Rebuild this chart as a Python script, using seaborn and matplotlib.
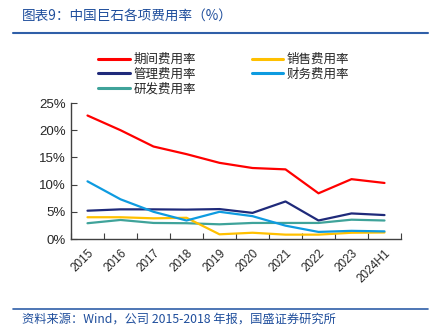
import matplotlib
matplotlib.use("Agg")
import matplotlib.pyplot as plt
import matplotlib.ticker as mticker
import seaborn as sns
import pandas as pd
import numpy as np

years = ["2015", "2016", "2017", "2018", "2019", "2020", "2021", "2022", "2023", "2024H1"]
period_rate = [22.7, 20.0, 17.0, 15.6, 14.0, 13.05, 12.8, 8.4, 11.0, 10.3]
mgmt_rate = [5.2, 5.45, 5.45, 5.4, 5.5, 4.8, 6.9, 3.4, 4.7, 4.4]
rd_rate = [2.9, 3.5, 2.95, 2.9, 2.7, 2.95, 2.95, 2.95, 3.55, 3.4]
sales_rate = [4.0, 4.0, 3.8, 3.9, 0.86, 1.15, 0.8, 0.8, 1.15, 1.2]
fin_rate = [10.6, 7.3, 5.0, 3.4, 5.0, 4.2, 2.45, 1.3, 1.5, 1.4]

series_names = ["期间费用率", "管理费用率", "研发费用率", "销售费用率", "财务费用率"]
series_vals = [period_rate, mgmt_rate, rd_rate, sales_rate, fin_rate]
colors = ["#FF0000", "#1F2A7A", "#3FA39A", "#FFC000", "#0E9BE0"]

rows = []
for name, vals in zip(series_names, series_vals):
    for i, v in enumerate(vals):
        rows.append({"x": i, "year": years[i], "value": v, "series": name})
df = pd.DataFrame(rows)

sns.set_style("ticks")
plt.rcParams["font.family"] = ["Liberation Sans", "Noto Sans CJK SC", "DejaVu Sans"]

fig = plt.figure(figsize=(4.33, 3.31), dpi=100)
ax = fig.add_axes([71/433, 1-239/331, 330/433, 136/331])

sns.lineplot(data=df, x="x", y="value", hue="series", hue_order=series_names,
             palette=colors, linewidth=1.6, ax=ax, legend=False)

ax.set_xlim(-0.5, 9.5)
ax.set_ylim(0, 25)
ax.set_xlabel("")
ax.set_ylabel("")
ax.yaxis.set_major_locator(mticker.MultipleLocator(5))
ax.yaxis.set_major_formatter(mticker.FuncFormatter(lambda v, p: f"{int(v)}%"))
ax.set_xticks(np.arange(-0.5, 10.0, 1.0))
ax.set_xticklabels([])
ax.set_xticks(np.arange(10), minor=True)
ax.set_xticklabels(years, minor=True, rotation=45, ha="right", rotation_mode="anchor")
ax.tick_params(axis="x", which="major", direction="in", length=4, width=0.8, color="#404040")
ax.tick_params(axis="x", which="minor", length=0, labelsize=8.5, pad=6)
ax.tick_params(axis="y", direction="in", length=4, width=0.8, color="#404040", labelsize=9.5)
for lab in ax.get_xticklabels(minor=True):
    lab.set_fontfamily(["Liberation Sans", "DejaVu Sans"])
for s in ["top", "right"]:
    ax.spines[s].set_visible(False)
for s in ["left", "bottom"]:
    ax.spines[s].set_color("#404040")
    ax.spines[s].set_linewidth(1.0)

from matplotlib.lines import Line2D
handles = [Line2D([0], [0], color=c, lw=2.2) for c in colors]
fig.legend(handles, series_names, loc="upper left", bbox_to_anchor=(92/433, 1-47/331),
           ncol=2, frameon=False, borderpad=0, handlelength=2.5, handletextpad=0.3,
           columnspacing=4.5, labelspacing=0.12,
           prop={"family": ["Noto Sans CJK SC"], "size": 9})

# header
fig.text(22/433, 1-16/331, "图表9：中国巨石各项费用率（%）", color="#1F4E9C",
         fontsize=9.8, va="center", ha="left", family=["Noto Sans CJK SC", "DejaVu Sans"],
         style="italic")
fig.add_artist(Line2D([13/433, 428/433], [1-33/331, 1-33/331], color="#2F5FA8", lw=1.5))
fig.add_artist(Line2D([13/433, 428/433], [1-309/331, 1-309/331], color="#2F5FA8", lw=1.2))
fig.text(22/433, 1-319/331, "资料来源：Wind，公司 2015-2018 年报，国盛证券研究所", color="#1F4E9C",
         fontsize=8.8, va="center", ha="left", family=["Noto Sans CJK SC", "DejaVu Sans"],
         style="italic")

fig.savefig("out.png", dpi=100)
